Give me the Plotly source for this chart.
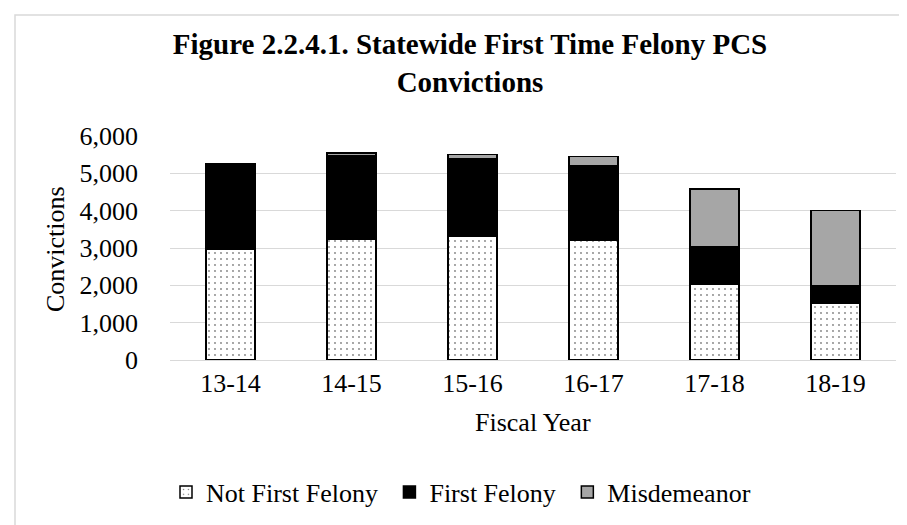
import plotly.graph_objects as go

years = ["13-14", "14-15", "15-16", "16-17", "17-18", "18-19"]
not_first_felony = [2954, 3241, 3311, 3196, 2025, 1518]
first_felony = [2312, 2234, 2087, 2000, 1018, 482]
misdemeanor = [0, 70, 110, 259, 1537, 2009]
y_ticks = [0, 1000, 2000, 3000, 4000, 5000, 6000]
y_tick_labels = ["0", "1,000", "2,000", "3,000", "4,000", "5,000", "6,000"]

FONT = "Liberation Serif, Times New Roman, serif"
W, H = 907, 525
L, R, T, B = 162, 19, 128, 173
pw = W - L - R
ph = H - T - B

def px_x(x):
    return (x - L) / pw

def px_y(y):
    return (H - B - y) / ph

NB = "\u00a0"

fig = go.Figure()
fig.add_trace(go.Bar(
    x=years, y=not_first_felony, name="Not First Felony" + NB,
    marker=dict(color="white",
                pattern=dict(shape=".", fgcolor="black", bgcolor="white",
                             size=6, solidity=0.07, fillmode="overlay"),
                line=dict(color="black", width=1.5)),
))
fig.add_trace(go.Bar(
    x=years, y=first_felony, name="First Felony" + NB,
    marker=dict(color="black", line=dict(color="black", width=1.5)),
))
fig.add_trace(go.Bar(
    x=years, y=misdemeanor, name="Misdemeanor",
    marker=dict(color="#a6a6a6", line=dict(color="black", width=1.5)),
))

fig.update_layout(
    barmode="stack",
    bargap=0.595,
    width=W, height=H,
    margin=dict(l=L, r=R, t=T, b=B, autoexpand=False),
    paper_bgcolor="white",
    plot_bgcolor="white",
    font=dict(family=FONT, size=26, color="black"),
    title=dict(
        text="<b>Figure 2.2.4.1. Statewide First Time Felony PCS<br>Convictions</b>",
        font=dict(family=FONT, size=29, color="black"),
        x=462 / W, xanchor="center", xref="container",
        y=1 - 46 / H, yanchor="top", yref="container",
    ),
    showlegend=True,
    legend=dict(
        orientation="h",
        x=px_x(453), xanchor="center",
        y=px_y(484), yanchor="middle",
        font=dict(family=FONT, size=26, color="black"),
        traceorder="normal",
        bgcolor="rgba(0,0,0,0)",
    ),
    xaxis=dict(
        showgrid=False, showline=True, linecolor="#d9d9d9", linewidth=1,
        ticks="", ticklabelstandoff=0,
        tickfont=dict(family=FONT, size=26, color="black"),
    ),
    yaxis=dict(
        range=[0, 6000], tickvals=y_ticks, ticktext=y_tick_labels,
        showgrid=True, gridcolor="#d9d9d9", gridwidth=1,
        zeroline=False, showline=False, ticks="", ticklabelstandoff=31,
        tickfont=dict(family=FONT, size=26, color="black"),
    ),
    annotations=[
        dict(text="Fiscal Year", xref="paper", yref="paper",
             x=0.5, y=px_y(414), xanchor="center", yanchor="middle",
             showarrow=False, font=dict(family=FONT, size=26, color="black")),
        dict(text="Convictions", xref="paper", yref="paper",
             x=px_x(47), y=px_y(241), xanchor="center", yanchor="middle",
             textangle=-90, showarrow=False,
             font=dict(family=FONT, size=26, color="black")),
    ],
    shapes=[
        dict(type="rect", xref="paper", yref="paper",
             x0=px_x(7), x1=px_x(W + 20), y0=px_y(H + 20), y1=px_y(7),
             line=dict(color="#d9d9d9", width=1.5), fillcolor="rgba(0,0,0,0)",
             layer="below"),
    ],
)

fig.write_html("out.html")
